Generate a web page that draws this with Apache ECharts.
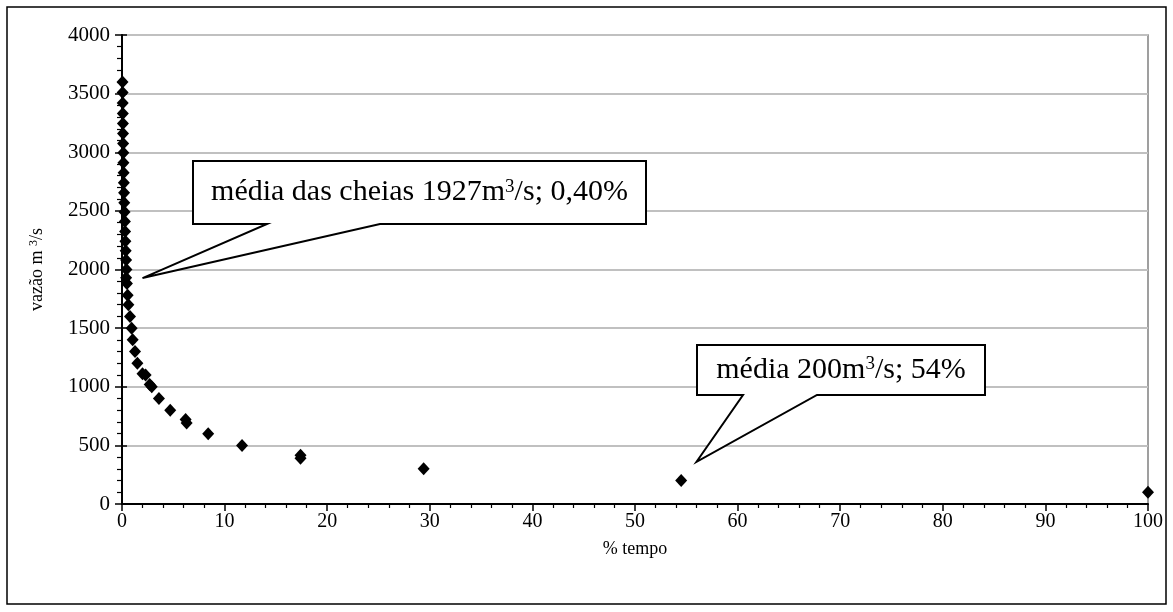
<!DOCTYPE html>
<html><head><meta charset="utf-8">
<script src="https://cdn.jsdelivr.net/npm/echarts@6/dist/echarts.min.js"></script>
<style>html,body{margin:0;padding:0;background:#fff}#c{width:1173px;height:612px}</style>
</head><body><div id="c"></div>
<script>
// % of time the flow is equalled or exceeded
const tempoPct = [0.05, 0.06, 0.07, 0.08, 0.09, 0.10, 0.11, 0.13, 0.14, 0.16,
  0.18, 0.20, 0.22, 0.25, 0.28, 0.30, 0.33, 0.36, 0.40, 0.43,
  0.40, 0.48, 0.55, 0.62, 0.78, 0.94, 1.04, 1.27, 1.50, 2.00,
  2.30, 2.70, 2.90, 3.60, 4.70, 6.20, 6.30, 8.40, 11.70, 17.40,
  17.40, 29.40, 54.50, 100.0];
// flow, m3/s
const vazao = [3600, 3510, 3420, 3330, 3245, 3160, 3075, 2995, 2910, 2825,
  2740, 2655, 2570, 2490, 2410, 2325, 2240, 2160, 2080, 2000,
  1930, 1880, 1780, 1700, 1600, 1500, 1400, 1300, 1200, 1110,
  1100, 1020, 1000, 900, 800, 720, 690, 600, 500, 415,
  390, 300, 200, 100];
const xTickLabels = ['0','10','20','30','40','50','60','70','80','90','100'];
const yTickLabels = ['0','500','1000','1500','2000','2500','3000','3500','4000'];
const xAxisTitle = '% tempo';
const calloutCheias = ['média das cheias 1927m', '3', '/s; 0,40%'];
const calloutMedia = ['média 200m', '3', '/s; 54%'];

const FONT = '"Liberation Serif", "Times New Roman", serif';
const points = tempoPct.map((x, i) => [x, vazao[i]]);

const chart = echarts.init(document.getElementById('c'), null, {renderer: 'canvas'});

function richText(parts) {
  return parts[0] + '{sup|' + parts[1] + '}' + parts[2];
}

const option = {
  backgroundColor: '#fff',
  animation: false,
  grid: {left: 122, right: 25, top: 35, bottom: 108, show: true,
    borderColor: '#808080', borderWidth: 1.5, backgroundColor: 'transparent'},
  xAxis: {
    type: 'value', min: 0, max: 100, interval: 10,
    name: xAxisTitle, nameLocation: 'middle', nameGap: 36,
    nameTextStyle: {fontFamily: FONT, fontSize: 18, color: '#000'},
    axisLine: {show: true, lineStyle: {color: '#000', width: 2}},
    axisTick: {show: true, length: 7, lineStyle: {color: '#000', width: 1.5}},
    minorTick: {show: true, splitNumber: 5, length: 4, lineStyle: {color: '#000', width: 1.2}},
    splitLine: {show: false},
    axisLabel: {fontFamily: FONT, fontSize: 20, color: '#000', margin: 8,
      formatter: v => xTickLabels[Math.round(v / 10)]}
  },
  yAxis: [{
    type: 'value', min: 0, max: 4000, interval: 500,
    name: 'vazão m {sup|3}/s', nameLocation: 'middle', nameGap: 76, nameRotate: 90,
    nameTextStyle: {fontFamily: FONT, fontSize: 18, color: '#000',
      rich: {sup: {fontFamily: FONT, fontSize: 12, verticalAlign: 'top', color: '#000'}}},
    axisLine: {show: true, lineStyle: {color: '#000', width: 2}},
    axisTick: {show: true, length: 7, lineStyle: {color: '#000', width: 1.5}},
    minorTick: {show: true, splitNumber: 5, length: 5, lineStyle: {color: '#000', width: 1.2}},
    splitLine: {show: true, lineStyle: {color: '#c0c0c0', width: 2}},
    axisLabel: {fontFamily: FONT, fontSize: 21, color: '#000', margin: 12,
      formatter: v => yTickLabels[Math.round(v / 500)]}
  }, {
    type: 'value', min: 0, max: 4000, interval: 500, position: 'left',
    axisLine: {show: false},
    axisTick: {show: true, inside: true, length: 5, lineStyle: {color: '#000', width: 1.5}},
    splitLine: {show: false}, axisLabel: {show: false}
  }],
  series: [{
    type: 'scatter', data: points, symbol: 'diamond', symbolSize: [12, 13],
    itemStyle: {color: '#000', opacity: 1}, z: 3
  }],
  graphic: []
};
chart.setOption(option);

function callout(box, tip, baseA, baseB, parts, fontSize) {
  const [l, t, r, b] = box;
  return [{
    type: 'polygon', z: 100,
    shape: {points: [[l, t], [r, t], [r, b], [baseB, b], tip, [baseA, b], [l, b]]},
    style: {fill: '#fff', stroke: '#000', lineWidth: 2}
  }, {
    type: 'text', z: 101, x: (l + r) / 2, y: (t + b) / 2,
    style: {text: richText(parts), fontFamily: FONT, fontSize: fontSize, fill: '#000',
      align: 'center', verticalAlign: 'middle',
      rich: {sup: {fontFamily: FONT, fontSize: Math.round(fontSize * 0.62), verticalAlign: 'top', fill: '#000'}}}
  }];
}

const tip1 = chart.convertToPixel({gridIndex: 0}, [2.0, 1927]);
const tip2 = chart.convertToPixel({gridIndex: 0}, [56.0, 360]);
chart.setOption({graphic: [
  {type: 'rect', z: 0, shape: {x: 7, y: 7, width: 1159, height: 597},
    style: {fill: 'none', stroke: '#000', lineWidth: 1.5}},
  ...callout([193, 161, 646, 224], tip1, 267, 380, calloutCheias, 30),
  ...callout([697, 345, 985, 395], tip2, 743, 817, calloutMedia, 30)
]});
</script></body></html>
